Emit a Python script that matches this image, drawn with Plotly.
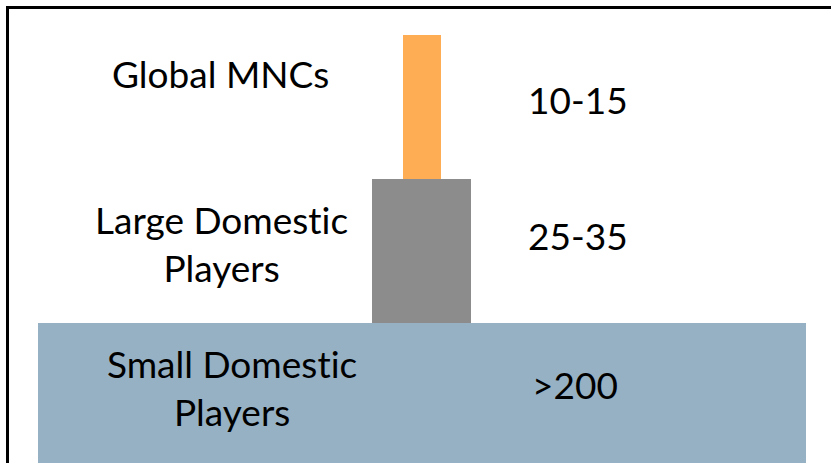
import plotly.graph_objects as go

# Market structure tiers, from the base of the pyramid to the top
tiers = ["Small Domestic<br>Players", "Large Domestic<br>Players", "Global MNCs"]
player_counts = [">200", "25-35", "10-15"]
tier_height = [1, 1, 1]

# Styling per tier (drawing only)
colors = ["#97B1C4", "#8C8C8C", "#FFAD55"]
bar_widths = [768, 99, 38]
center_x = 421.6
name_x = [232, 221, 220]
count_x = [575, 578, 578]
name_dy = [0.555, 0.55, 0.73]
count_dy = [0.57, 0.61, 0.555]

bases = [sum(tier_height[:i]) for i in range(len(tier_height))]


def plain(text):
    # a tiny letter-spacing turns off the "ti" ligature of Lato
    return "<br>".join('<span style="letter-spacing:0.01px">%s</span>' % part
                       for part in text.split("<br>"))


fig = go.Figure()
fig.add_trace(go.Bar(
    x=[center_x] * len(tiers),
    y=tier_height,
    base=bases,
    width=bar_widths,
    marker=dict(color=colors, line=dict(width=0)),
    hoverinfo="skip",
    showlegend=False,
))

font = dict(family="Lato, 'Open Sans', sans-serif", size=37, color="#000000")
for i in range(len(tiers)):
    fig.add_annotation(x=name_x[i], y=bases[i] + name_dy[i], text=plain(tiers[i]),
                       showarrow=False, font=font, xanchor="center", yanchor="middle")
    fig.add_annotation(x=count_x[i], y=bases[i] + count_dy[i], text=player_counts[i],
                       showarrow=False, font=font, xanchor="center", yanchor="middle")

# Frame: left and top edges
fig.add_shape(type="line", xref="paper", yref="paper",
              x0=7.5 / 831, x1=1.01, y0=1 - 7.5 / 463, y1=1 - 7.5 / 463,
              line=dict(color="#000000", width=3))
fig.add_shape(type="line", xref="paper", yref="paper",
              x0=7.5 / 831, x1=7.5 / 831, y0=-0.01, y1=1 - 6 / 463,
              line=dict(color="#000000", width=3))

fig.update_layout(
    width=831, height=463,
    margin=dict(l=0, r=0, t=0, b=0),
    paper_bgcolor="#FFFFFF", plot_bgcolor="#FFFFFF",
    xaxis=dict(range=[0, 831], visible=False, fixedrange=True),
    yaxis=dict(range=[0.028, 3.243], visible=False, fixedrange=True),
    bargap=0,
)

fig.write_html("out.html")
